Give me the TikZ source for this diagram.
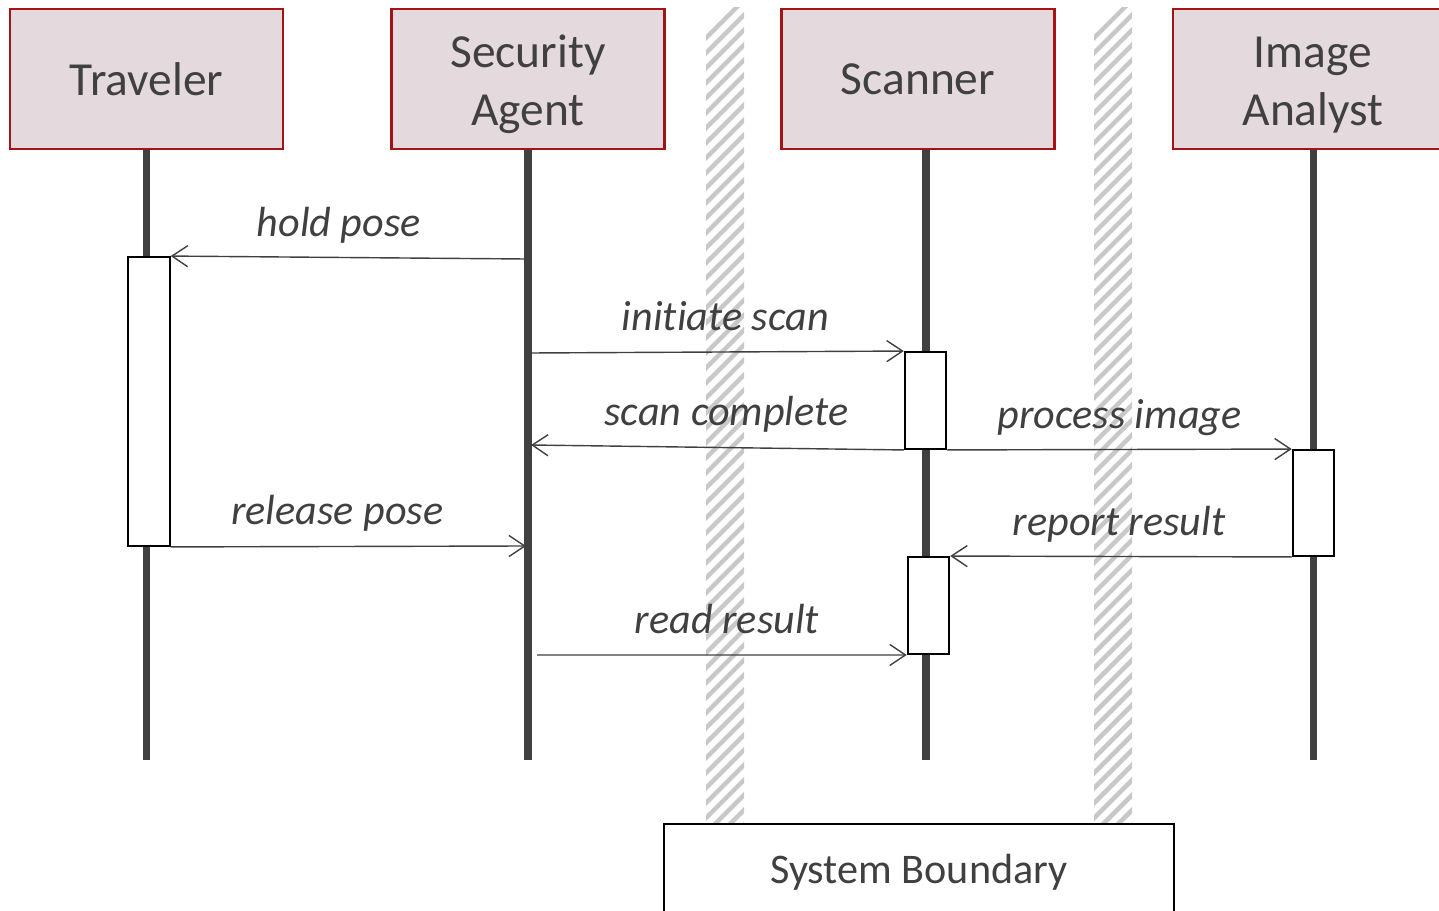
\documentclass[tikz,border=0pt]{standalone}
\usepackage{fontspec}
\setmainfont{Carlito}[Ligatures=NoCommon]
\usetikzlibrary{arrows.meta,positioning}
\definecolor{inkgray}{RGB}{64,64,64}
\definecolor{actorfill}{RGB}{228,217,221}
\definecolor{actorline}{RGB}{165,20,20}
\definecolor{hatchgray}{RGB}{200,200,200}
% two-line header text, set a little lower
\newcommand{\headtwo}[2]{\raisebox{-3.4pt}[\height][\depth]{\begin{tabular}{@{}c@{}}#1\\#2\end{tabular}}}
\tikzset{
  % header box of a participant
  actor/.style={draw=actorline,line width=1.2pt,fill=actorfill,
    minimum width=5.46cm,minimum height=2.8cm,align=center,
    text=inkgray,font=\fontsize{27}{33}\selectfont},
  % vertical life line
  lifeline/.style={draw=inkgray,line width=4pt},
  % activation bar on a life line
  activation/.style={draw=black,line width=1.1pt,fill=white,
    minimum width=0.83cm,inner sep=0pt},
  % message with an open arrow head
  msg/.style={draw=inkgray,line width=0.8pt,
    -{Straight Barb[length=9pt,width=12pt]}},
  msglabel/.style={text=inkgray,font=\fontsize{24}{28}\selectfont\itshape,
    text height=17pt,text depth=6pt,above=2.5pt},
  hatch/.style={draw=hatchgray,line width=2.6pt},
  boundary/.style={draw=black,line width=1.1pt,fill=white,
    minimum width=10.2cm,minimum height=1.92cm,
    text=inkgray,font=\fontsize{24}{28}\selectfont},
}

\begin{document}
\begin{tikzpicture}[x=0.02cm,y=-0.02cm]
  \useasboundingbox (0,0) rectangle (1439,911);

  % hatched bands
  \foreach \bx in {706,1094}{
    \begin{scope}
      \clip (\bx,8) rectangle (\bx+38,822);
      \foreach \y in {0,15,...,870}
        \draw[hatch] (\bx-6,\y+44) -- (\bx+44,\y-6);
    \end{scope}
  }

  \node[actor] (trav) at (146.5,79) {Traveler};
  \node[actor] (agent) at (528,79) {\headtwo{Security}{Agent}};
  \node[actor] (scan) at (918,79) {Scanner};
  \node[actor,minimum width=5.6cm] (analyst) at (1313,79) {\headtwo{Image}{Analyst}};

  \coordinate (lifeend) at (0,760);
  \draw[lifeline] (trav.south) -- (trav.south |- lifeend);
  \draw[lifeline] (agent.south) -- (agent.south |- lifeend);
  \draw[lifeline] ([xshift=0.16cm]scan.south) -- ([xshift=0.16cm]scan.south |- lifeend);
  \draw[lifeline] (analyst.south) -- (analyst.south |- lifeend);

  \node[activation,minimum height=5.78cm] (travact) at (149,401.5) {};
  \node[activation,minimum height=1.94cm] (scanact1) at (925.5,400.5) {};
  \node[activation,minimum height=2.12cm] (anaact) at (1313.5,503) {};
  \node[activation,minimum height=1.94cm] (scanact2) at (928.5,605.5) {};

  \coordinate (holdstart) at (525,259);
  \coordinate (scanstart) at (531,353);
  \coordinate (doneend) at (531,445);
  \coordinate (releaseend) at (526,546);
  \coordinate (readstart) at (537,655);

  \draw[msg] (holdstart) -- (travact.north east)
    node[msglabel,midway,xshift=-0.18cm] {hold pose};
  \draw[msg] (scanstart) -- (scanact1.north west)
    node[msglabel,midway,xshift=0.16cm] {initiate scan};
  \draw[msg] (scanact1.south west) -- (doneend)
    node[msglabel,midway,xshift=0.18cm] {scan complete};
  \draw[msg] (scanact1.south east) -- (anaact.north west)
    node[msglabel,midway] {process image};
  \draw[msg] (travact.south east) -- (releaseend)
    node[msglabel,midway,xshift=-0.22cm] {release pose};
  \draw[msg] (anaact.south west) -- (scanact2.north east)
    node[msglabel,midway,xshift=-0.04cm] {report result};
  \draw[msg] (readstart) -- (scanact2.south west)
    node[msglabel,midway,xshift=0.1cm] {read result};

  \node[boundary] (sysbound) at (919,872) {System Boundary};
\end{tikzpicture}
\end{document}
